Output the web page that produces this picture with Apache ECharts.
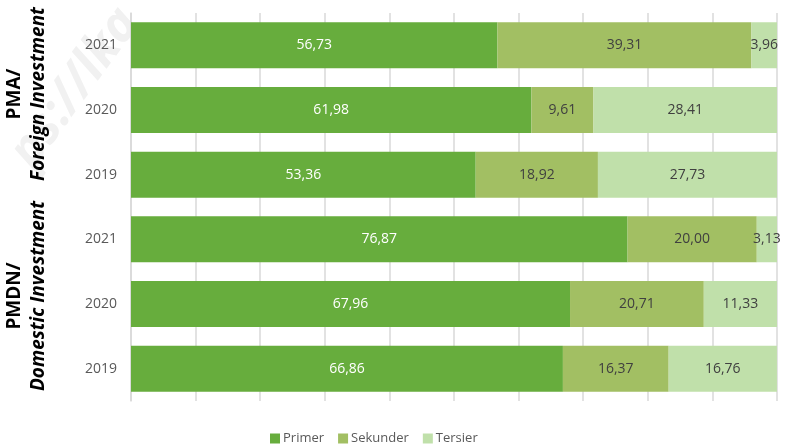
<!DOCTYPE html>
<html>
<head>
<meta charset="utf-8">
<script src="https://cdn.jsdelivr.net/npm/echarts@6/dist/echarts.min.js"></script>
<style>
  html, body { margin: 0; padding: 0; background: #fff; }
  #chart { width: 787px; height: 446px; }
</style>
</head>
<body>
<div id="chart"></div>
<script>
// rows from top to bottom: PMA 2021..2019, PMDN 2021..2019
var rowKeys = ["PMA-2021", "PMA-2020", "PMA-2019", "PMDN-2021", "PMDN-2020", "PMDN-2019"];
var yearLabels = ["2021", "2020", "2019", "2021", "2020", "2019"];
var seriesNames = ["Primer", "Sekunder", "Tersier"];
var primer = [56.73, 61.98, 53.36, 76.87, 67.96, 66.86];
var sekunder = [39.31, 9.61, 18.92, 20.0, 20.71, 16.37];
var tersier = [3.96, 28.41, 27.73, 3.13, 11.33, 16.76];

var colors = ["#67ad3d", "#a2bf63", "#c0e0aa"];
var fontFamily = "'Open Sans', 'Noto Sans', sans-serif";

function fmt(p) {
  return p.value.toFixed(2).replace(".", ",");
}

function makeSeries(name, data, labelColor) {
  return {
    name: name,
    type: "bar",
    stack: "Total",
    barWidth: 46,
    data: data,
    label: {
      show: true,
      position: "inside",
      color: labelColor,
      fontSize: 14,
      fontFamily: fontFamily,
      formatter: fmt,
    },
    emphasis: { disabled: true },
  };
}

// rotated group title (bold line + bold italic line)
function groupTitle(y, line1, line2) {
  var rich = {
    a: { fontSize: 19, fontWeight: "bold", fill: "#000", lineHeight: 24, fontFamily: fontFamily },
    b: { fontSize: 19, fontWeight: "bold", fontStyle: "italic", fill: "#000", lineHeight: 24, fontFamily: fontFamily },
  };
  return {
    type: "text",
    x: 27,
    y: y,
    rotation: Math.PI / 2,
    style: {
      text: "{a|" + line1 + "}\n{b|" + line2 + "}",
      align: "center",
      verticalAlign: "middle",
      rich: rich,
    },
  };
}

var chart = echarts.init(document.getElementById("chart"));

chart.setOption({
  animation: false,
  color: colors,
  textStyle: { fontFamily: fontFamily },
  grid: {
    left: 131,
    right: 10,
    top: 13,
    bottom: 45,
  },
  legend: {
    data: seriesNames,
    left: 265,
    top: 427,
    itemWidth: 10,
    itemHeight: 10,
    itemGap: 14,
    icon: "rect",
    textStyle: {
      color: "#595959",
      fontSize: 13,
      padding: [0, 0, 0, -2],
    },
  },
  xAxis: {
    type: "value",
    min: 0,
    max: 100,
    interval: 10,
    axisLabel: { show: false },
    axisLine: { show: false },
    axisTick: { show: false },
    splitLine: {
      show: true,
      lineStyle: { color: "#d9d9d9", width: 1.5 },
    },
  },
  yAxis: {
    type: "category",
    inverse: true,
    data: rowKeys,
    axisLine: {
      show: true,
      lineStyle: { color: "#d9d9d9", width: 1.5 },
    },
    axisTick: { show: false },
    axisLabel: {
      color: "#595959",
      fontSize: 14,
      margin: 14,
      formatter: function (v, i) {
        return yearLabels[i];
      },
    },
  },
  graphic: [
    // faint watermark
    {
      type: "text",
      x: 75,
      y: 88,
      rotation: 0.94,
      z: -1,
      style: {
        text: "ps://lka",
        fill: "#f1f1f1",
        font: "italic bold 50px 'Open Sans', sans-serif",
        align: "center",
        verticalAlign: "middle",
      },
    },
    groupTitle(94, "PMA/", "Foreign Investment"),
    groupTitle(296, "PMDN/", "Domestic Investment"),
  ],
  series: [
    makeSeries("Primer", primer, "#ffffff"),
    makeSeries("Sekunder", sekunder, "#404040"),
    makeSeries("Tersier", tersier, "#404040"),
  ],
});
</script>
</body>
</html>
